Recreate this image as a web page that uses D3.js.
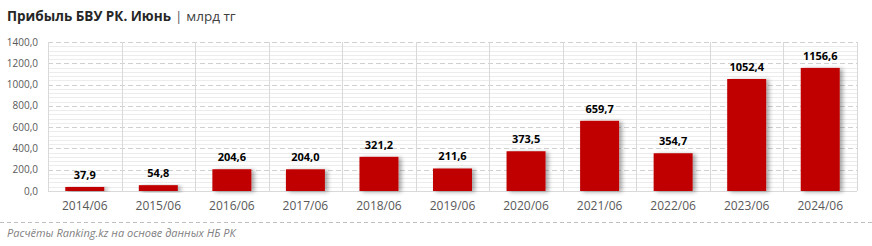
<!DOCTYPE html>
<html><head><meta charset="utf-8">
<script src="https://cdn.jsdelivr.net/npm/d3@7"></script>
<style>body{margin:0;background:#fff;}svg{display:block;font-family:"Open Sans","Liberation Sans",sans-serif;}</style>
</head><body><div id="c"></div>
<script>
const categories = ["2014/06","2015/06","2016/06","2017/06","2018/06","2019/06","2020/06","2021/06","2022/06","2023/06","2024/06"];
const values = [37.9,54.8,204.6,204.0,321.2,211.6,373.5,659.7,354.7,1052.4,1156.6];
const yTicks = [0,200,400,600,800,1000,1200,1400];
const title = "Прибыль БВУ РК. Июнь";
const unit = "млрд тг";
const source = "Расчёты Ranking.kz на основе данных НБ РК";

const W=872,H=246;
const m={left:48,right:15,top:42,bottom:55};
const svg=d3.select("#c").append("svg").attr("width",W).attr("height",H);
const defs=svg.append("defs");
const f=defs.append("filter").attr("id","sh").attr("x","-20%").attr("y","-20%").attr("width","160%").attr("height","140%");
f.append("feDropShadow").attr("dx",3).attr("dy",1).attr("stdDeviation",2.2).attr("flood-color","#000").attr("flood-opacity",0.35);

const x=d3.scaleBand().domain(categories).range([m.left,W-m.right]).paddingInner(0.47).paddingOuter(0.235);
const xb=d3.scaleBand().domain(categories).range([m.left,W-m.right]);
const y=d3.scaleLinear().domain([0,1400]).range([H-m.bottom,m.top]);
const fmt=v=>d3.format(".1f")(v).replace(".",",");

const g=svg.append("g");
g.selectAll(".mn").data(d3.range(40,1400,40).filter(v=>v%200!==0)).join("line")
 .attr("x1",m.left).attr("x2",W-m.right).attr("y1",d=>Math.round(y(d))+0.5).attr("y2",d=>Math.round(y(d))+0.5)
 .attr("stroke","#ececec").attr("stroke-width",1);
g.selectAll(".mj").data(yTicks.slice(1)).join("line")
 .attr("x1",m.left).attr("x2",W-m.right).attr("y1",d=>Math.round(y(d))+0.5).attr("y2",d=>Math.round(y(d))+0.5)
 .attr("stroke","#d0d0d0").attr("stroke-dasharray","5,3");
g.selectAll(".vs").data(categories.map(c=>xb(c)).concat([W-m.right])).join("line")
 .attr("x1",d=>Math.round(d)+0.5).attr("x2",d=>Math.round(d)+0.5).attr("y1",m.top).attr("y2",y(0))
 .attr("stroke","#d9d9d9");
g.append("line").attr("x1",m.left).attr("x2",W-m.right).attr("y1",Math.round(y(0))+0.5).attr("y2",Math.round(y(0))+0.5).attr("stroke","#d9d9d9");

svg.selectAll(".yl").data(yTicks).join("text")
 .attr("x",38).attr("y",d=>y(d)+3.5).attr("text-anchor","end")
 .attr("font-size",10).attr("fill","#595959").text(d=>fmt(d));

svg.selectAll(".bar").data(values).join("rect")
 .attr("x",(d,i)=>x(categories[i])).attr("width",x.bandwidth())
 .attr("y",d=>y(d)).attr("height",d=>y(0)-y(d))
 .attr("fill","#c00000").attr("filter","url(#sh)");

svg.selectAll(".vl").data(values).join("text")
 .attr("x",(d,i)=>x(categories[i])+x.bandwidth()/2).attr("y",d=>y(d)-8)
 .attr("text-anchor","middle").attr("font-size",11).attr("font-weight","bold").attr("fill","#000")
 .text(d=>fmt(d));

svg.selectAll(".xl").data(categories).join("text")
 .attr("x",d=>xb(d)+xb.bandwidth()/2).attr("y",210)
 .attr("text-anchor","middle").attr("font-size",12).attr("fill","#595959").text(d=>d);

const t=svg.append("text").attr("x",7).attr("y",21).attr("font-size",13.5).attr("fill","#262626");
t.append("tspan").attr("font-weight","bold").text(title);
t.append("tspan").attr("fill","#595959").attr("dx",4).text("|");
t.append("tspan").attr("dx",4).attr("fill","#404040").text(unit);

svg.append("line").attr("x1",0).attr("x2",W).attr("y1",222.5).attr("y2",222.5).attr("stroke","#bfbfbf").attr("stroke-dasharray","4,3");
svg.append("text").attr("x",7).attr("y",237).attr("font-size",11).attr("font-style","italic").attr("fill","#808080").text(source);
</script></body></html>
